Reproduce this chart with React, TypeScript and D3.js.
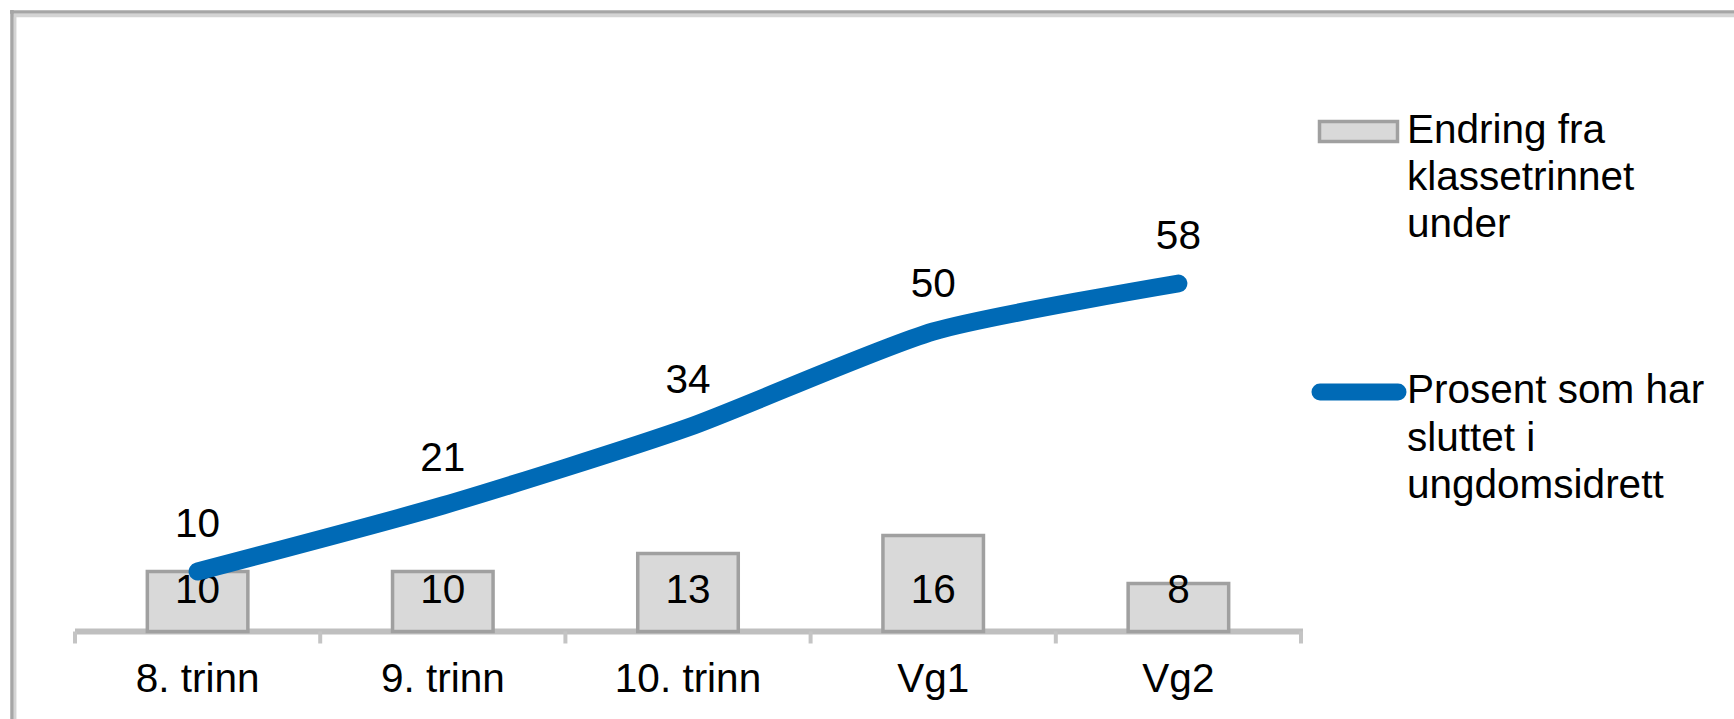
import React from "react";
import * as d3 from "d3";

const categories = ["8. trinn", "9. trinn", "10. trinn", "Vg1", "Vg2"];
const changeValues = [10, 10, 13, 16, 8];
const percentValues = [10, 21, 34, 50, 58];
const legendBarLines = ["Endring fra", "klassetrinnet", "under"];
const legendLineLines = ["Prosent som har", "sluttet i", "ungdomsidrett"];

const W = 1734;
const H = 719;
const FONT = "'Liberation Sans', Arial, Helvetica, sans-serif";

export default function App() {
  const x = d3.scaleBand<string>().domain(categories).range([75, 1301]).padding(0);
  const y = d3.scaleLinear().domain([0, 70]).range([631.5, 211.5]);
  const barW = x.bandwidth() * 0.41;
  const cx = (c: string) => (x(c) as number) + x.bandwidth() / 2;

  const line = d3
    .line<number>()
    .x((_, i) => cx(categories[i]))
    .y((d) => y(d))
    .curve(d3.curveCardinal.tension(0.35));

  const boundaries = [...categories.map((c) => x(c) as number), 1301];

  return (
    <svg
      width={W}
      height={H}
      style={{ position: "absolute", left: 0, top: 0, background: "#fff" }}
      fontFamily={FONT}
    >
      {/* frame */}
      <line x1={10} x2={W} y1={12} y2={12} stroke="#a6a6a6" strokeWidth={3.5} />
      <line x1={13.5} x2={W} y1={15.5} y2={15.5} stroke="#d4d4d4" strokeWidth={3.5} />
      <line x1={12} x2={12} y1={10} y2={H} stroke="#a6a6a6" strokeWidth={3.5} />
      <line x1={15.2} x2={15.2} y1={14} y2={H} stroke="#d4d4d4" strokeWidth={2.5} />

      {/* axis */}
      <line x1={75} x2={1303} y1={y(0)} y2={y(0)} stroke="#bfbfbf" strokeWidth={6} />
      {boundaries.map((b, i) => (
        <line key={i} x1={b} x2={b} y1={y(0)} y2={y(0) + 12} stroke="#c4c4c4" strokeWidth={4} />
      ))}

      {/* bars */}
      {categories.map((c, i) => (
        <rect
          key={c}
          x={cx(c) - barW / 2}
          y={y(changeValues[i])}
          width={barW}
          height={y(0) - y(changeValues[i])}
          fill="#d9d9d9"
          stroke="#a0a0a0"
          strokeWidth={3.5}
        />
      ))}
      {categories.map((c, i) => (
        <text key={c} x={cx(c)} y={y(0) - 28.5} textAnchor="middle" fontSize={40.5} fill="#000">
          {changeValues[i]}
        </text>
      ))}

      {/* line */}
      <path
        d={line(percentValues) || ""}
        fill="none"
        stroke="#006ab6"
        strokeWidth={18}
        strokeLinecap="round"
        strokeLinejoin="round"
      />
      {categories.map((c, i) => (
        <text key={c} x={cx(c)} y={y(percentValues[i]) - 35} textAnchor="middle" fontSize={40.5} fill="#000">
          {percentValues[i]}
        </text>
      ))}

      {/* category labels */}
      {categories.map((c) => (
        <text key={c} x={cx(c)} y={692} textAnchor="middle" fontSize={40.5} fill="#000">
          {c}
        </text>
      ))}

      {/* legend */}
      <rect x={1319.5} y={121.5} width={78} height={20} fill="#d9d9d9" stroke="#a0a0a0" strokeWidth={3.5} />
      {legendBarLines.map((t, i) => (
        <text key={t} x={1407} y={143 + i * 47} fontSize={40.5} fill="#000">
          {t}
        </text>
      ))}
      <line x1={1320} x2={1398} y1={392} y2={392} stroke="#006ab6" strokeWidth={17} strokeLinecap="round" />
      {legendLineLines.map((t, i) => (
        <text key={t} x={1407} y={403 + i * 47.5} fontSize={40.5} fill="#000">
          {t}
        </text>
      ))}
    </svg>
  );
}
